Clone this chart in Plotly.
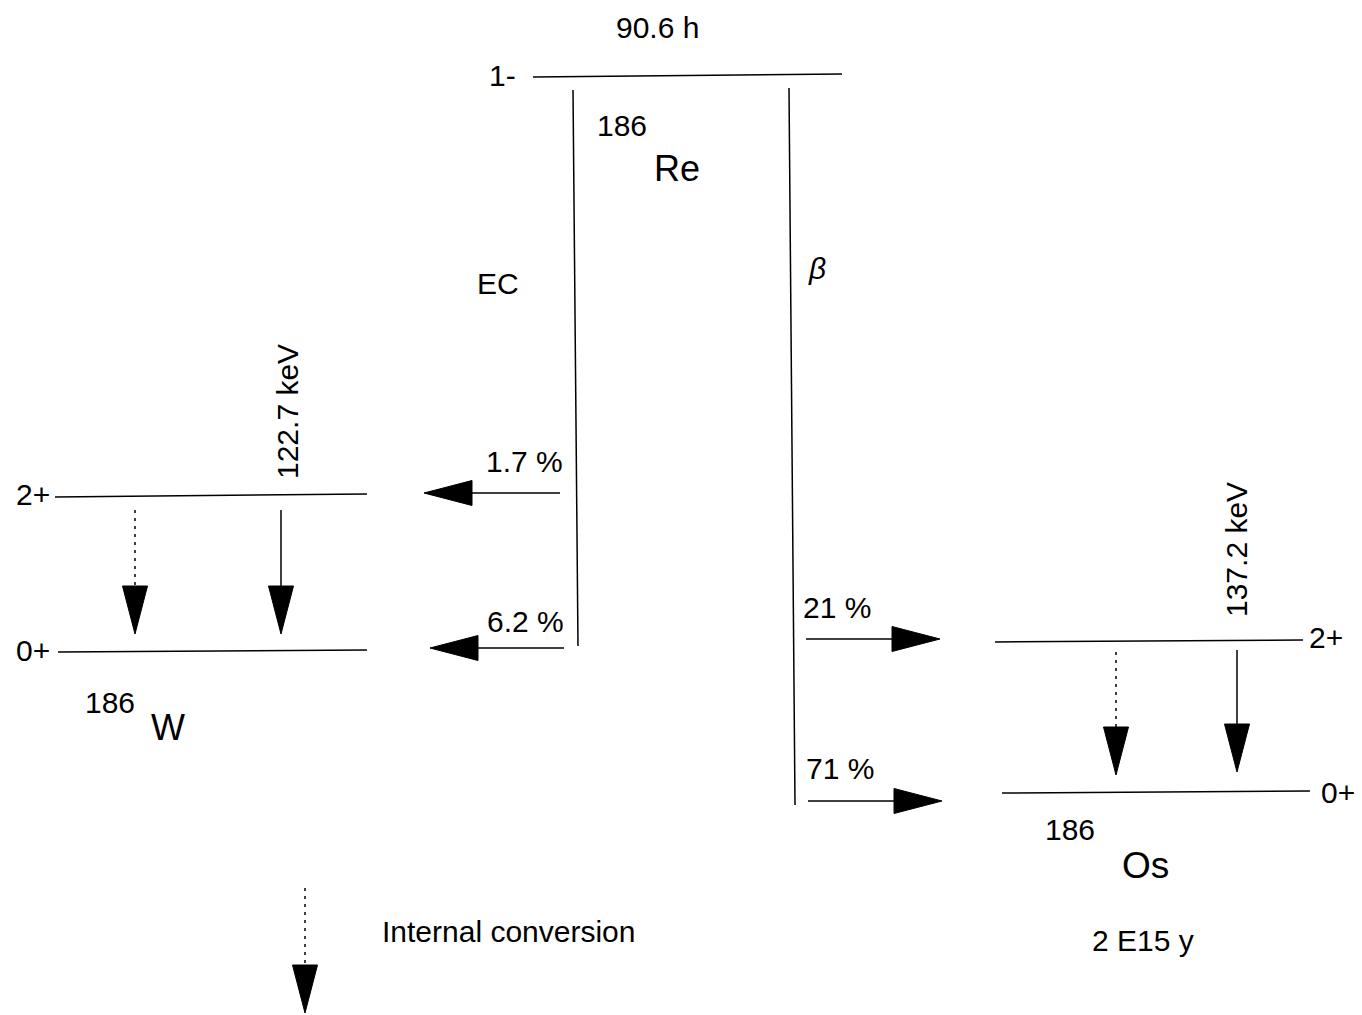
import plotly.graph_objects as go

# ---- decay data: 186Re -> 186W (EC) / 186Os (beta-) ----
MASS_NUMBER = 186
PARENT = "Re"
PARENT_SPIN = "1-"
PARENT_HALF_LIFE = "90.6 h"

EC_DAUGHTER = "W"
EC_SPINS = ["2+", "0+"]
EC_INTENSITY = [1.7, 6.2]          # % per level
EC_GAMMA_KEV = 122.7

BETA_DAUGHTER = "Os"
BETA_SPINS = ["2+", "0+"]
BETA_INTENSITY = [21, 71]          # % per level
BETA_GAMMA_KEV = 137.2
BETA_DAUGHTER_HALF_LIFE = "2 E15 y"

LEGEND_TEXT = "Internal conversion"

# ---- drawing geometry (canvas units, y downward) ----
W, H = 1362, 1015
FONT = "Liberation Sans, Arial, sans-serif"
TXT = 30
SYM = 36
LW = 1.5
HEAD_LEN, HEAD_HALF = 48, 12.5

parent_level = dict(x0=533, x1=842, y0=77, y1=74)
ec_line = dict(x0=573, y0=90, x1=578, y1=646)
beta_line = dict(x0=789, y0=88, x1=795, y1=805)

ec_levels = [dict(x0=55, x1=367, y0=497, y1=494), dict(x0=58, x1=367, y0=652, y1=650)]
beta_levels = [dict(x0=995, x1=1303, y0=642, y1=640), dict(x0=1002, x1=1310, y0=793, y1=791)]

ec_feed = [dict(xs=560, xt=424, y=493), dict(xs=564, xt=430, y=648)]
beta_feed = [dict(xs=806, xt=940, y=639), dict(xs=808, xt=942, y=801)]

ec_gamma = dict(ic=dict(x=135, y0=510, y1=634), g=dict(x=281, y0=510, y1=634))
beta_gamma = dict(ic=dict(x=1116, y0=652, y1=775), g=dict(x=1237, y0=650, y1=772))
legend_arrow = dict(x=305, y0=888, y1=1013)

fig = go.Figure()


def seg(x0, y0, x1, y1, dash="solid"):
    fig.add_trace(go.Scatter(x=[x0, x1], y=[y0, y1], mode="lines",
                             line=dict(color="black", width=LW, dash=dash),
                             hoverinfo="skip", showlegend=False))


def head(tx, ty, dx, dy):
    # filled triangle with its tip at (tx, ty), pointing along (dx, dy)
    bx, by = tx - dx * HEAD_LEN, ty - dy * HEAD_LEN
    px, py = -dy * HEAD_HALF, dx * HEAD_HALF
    fig.add_trace(go.Scatter(x=[tx, bx + px, bx - px, tx], y=[ty, by + py, by - py, ty],
                             mode="lines", fill="toself", fillcolor="black",
                             line=dict(color="black", width=1),
                             hoverinfo="skip", showlegend=False))


def harrow(xs, xt, y):
    d = 1 if xt > xs else -1
    seg(xs, y, xt - d * HEAD_LEN, y)
    head(xt, y, d, 0)


def varrow(x, y0, y1, dash="solid"):
    seg(x, y0, x, y1 - HEAD_LEN, dash)
    head(x, y1, 0, 1)


def text(x, y, s, size=TXT, angle=0, italic=False):
    fig.add_annotation(x=x, y=y, text=f"<i>{s}</i>" if italic else s, showarrow=False,
                       xanchor="center", yanchor="middle", textangle=angle,
                       font=dict(family=FONT, size=size, color="black"))


DOTS = "3px,5px"

# parent level and decay branches
seg(parent_level["x0"], parent_level["y0"], parent_level["x1"], parent_level["y1"])
seg(ec_line["x0"], ec_line["y0"], ec_line["x1"], ec_line["y1"])
seg(beta_line["x0"], beta_line["y0"], beta_line["x1"], beta_line["y1"])

# daughter levels
for lv in ec_levels + beta_levels:
    seg(lv["x0"], lv["y0"], lv["x1"], lv["y1"])

# feeding arrows with intensities
ec_label_pos = [(524, 461), (525, 621)]
for f, pct, (lx, ly) in zip(ec_feed, EC_INTENSITY, ec_label_pos):
    harrow(f["xs"], f["xt"], f["y"])
    text(lx, ly, f"{pct:g} %")

beta_label_pos = [(837, 607), (840, 768)]
for f, pct, (lx, ly) in zip(beta_feed, BETA_INTENSITY, beta_label_pos):
    harrow(f["xs"], f["xt"], f["y"])
    text(lx, ly, f"{pct:g} %")

# 2+ -> 0+ transitions: internal conversion (dotted) and gamma (solid)
for g in (ec_gamma, beta_gamma):
    varrow(g["ic"]["x"], g["ic"]["y0"], g["ic"]["y1"], DOTS)
    varrow(g["g"]["x"], g["g"]["y0"], g["g"]["y1"])

# legend arrow
varrow(legend_arrow["x"], legend_arrow["y0"], legend_arrow["y1"], DOTS)
text(508, 931, LEGEND_TEXT)

# parent labels
text(657, 27, PARENT_HALF_LIFE)
text(502, 75, PARENT_SPIN)
text(622, 125, str(MASS_NUMBER))
text(677, 168, PARENT, size=SYM)
text(498, 283, "EC")
text(817, 268, "β", italic=True)

# EC daughter labels
text(33, 494, EC_SPINS[0])
text(33, 650, EC_SPINS[1])
text(287, 412, f"{EC_GAMMA_KEV:g} keV", angle=-90)
text(110, 702, str(MASS_NUMBER))
text(168, 727, EC_DAUGHTER, size=SYM)

# beta daughter labels
text(1326, 637, BETA_SPINS[0])
text(1338, 792, BETA_SPINS[1])
text(1236, 550, f"{BETA_GAMMA_KEV:g} keV", angle=-90)
text(1070, 829, str(MASS_NUMBER))
text(1145, 865, BETA_DAUGHTER, size=SYM + 1)
text(1143, 940, BETA_DAUGHTER_HALF_LIFE)

fig.update_layout(
    width=W, height=H,
    margin=dict(l=0, r=0, t=0, b=0),
    paper_bgcolor="white", plot_bgcolor="white",
    xaxis=dict(range=[0, W], visible=False, fixedrange=True),
    yaxis=dict(range=[H, 0], visible=False, fixedrange=True),
    showlegend=False,
)

fig.write_html("out.html", config={"displayModeBar": False})
